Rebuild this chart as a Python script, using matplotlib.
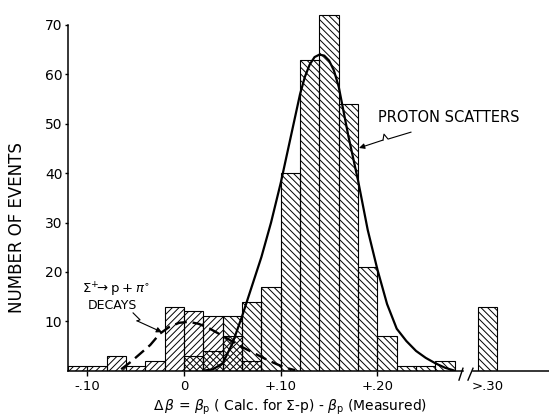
import numpy as np
import matplotlib
matplotlib.use("Agg")
from matplotlib import pyplot as plt

plt.rcParams['font.family'] = 'DejaVu Sans'
plt.rcParams['mathtext.fontset'] = 'dejavusans'
plt.rcParams['hatch.linewidth'] = 0.7
plt.rcParams['hatch.color'] = 'black'

# histogram bins (left edges, width .02)
bin_left = [-0.12, -0.10, -0.08, -0.06, -0.04, -0.02, 0.00, 0.02, 0.04, 0.06,
            0.08, 0.10, 0.12, 0.14, 0.16, 0.18, 0.20, 0.22, 0.24, 0.26]
bin_width = 0.02
decays = [1, 1, 3, 1, 2, 13, 12, 11, 7, 2, 0, 0, 0, 0, 0, 0, 0, 0, 0, 0]
protons = [0, 0, 0, 0, 0, 0, 3, 4, 11, 14, 17, 40, 63, 72, 54, 21, 7, 1, 1, 2]

# the ">.30" overflow bin
overflow_left = 0.304
overflow_count = 13

# fitted curves
proton_x = [0.02, 0.03, 0.04, 0.05, 0.06, 0.07, 0.08, 0.09, 0.10, 0.11,
            0.12, 0.125, 0.13, 0.135, 0.14, 0.145, 0.15, 0.155, 0.16, 0.17,
            0.18, 0.19, 0.20, 0.21, 0.22, 0.23, 0.24, 0.25, 0.26, 0.27, 0.28]
proton_y = [0, 0.3, 1.5, 5.5, 11, 17, 23, 30, 38, 47,
            56, 59.5, 62, 63.5, 64, 63.8, 62.8, 60.8, 57.5, 47.5,
            38.5, 28.5, 20.5, 13.5, 8.5, 6, 4, 2.6, 1.5, 0.6, 0]

decay_x = [-0.065, -0.055, -0.045, -0.035, -0.025, -0.015, -0.005, 0.005, 0.015,
           0.025, 0.035, 0.045, 0.055, 0.065, 0.075, 0.085, 0.095, 0.105, 0.115]
decay_y = [0.3, 1.8, 3.5, 5.2, 7.5, 8.9, 9.7, 9.9, 9.5,
           8.7, 7.6, 6.5, 5.3, 4.3, 3.3, 2.3, 1.4, 0.6, 0.1]

xtick_pos = [-0.10, 0.0, 0.10, 0.20, 0.314]
xtick_lab = ['-.10', '0', '+.10', '+.20', '>.30']
ytick_pos = [10, 20, 30, 40, 50, 60, 70]

fig = plt.figure(figsize=(5.49, 4.17), dpi=100)
ax = fig.add_axes([0.1239, 0.111, 0.8761, 0.889])

# proton scatters (\\) and decays (//); overlap gives the cross hatch
pl = [b for b, c in zip(bin_left, protons) if c > 0]
pc = [c for c in protons if c > 0]
dl = [b for b, c in zip(bin_left, decays) if c > 0]
dc = [c for c in decays if c > 0]
ax.bar(pl, pc, width=bin_width, align='edge', facecolor='none',
       edgecolor='black', linewidth=0.8, hatch='\\' * 5)
ax.bar(dl, dc, width=bin_width, align='edge', facecolor='none',
       edgecolor='black', linewidth=0.8, hatch='/' * 5)
ax.bar([overflow_left], [overflow_count], width=bin_width, align='edge',
       facecolor='none', edgecolor='black', linewidth=0.8, hatch='\\' * 5)

ax.plot(proton_x, proton_y, color='black', lw=1.6, zorder=4)
line, = ax.plot(decay_x, decay_y, color='black', lw=1.7, zorder=4)
line.set_dashes((5, 2.5))

ax.set_xlim(-0.12, 0.3775)
ax.set_ylim(0, 75.06)

for s in ['top', 'right']:
    ax.spines[s].set_visible(False)
ax.spines['left'].set_bounds(0, 70)
ax.spines['bottom'].set_bounds(-0.12, 0.2885)
ax.spines['left'].set_linewidth(1.1)
ax.spines['bottom'].set_linewidth(1.1)

# broken axis: rest of the line and the two slashes
ax.plot([0.2989, 0.3775], [0, 0], color='black', lw=1.1, clip_on=False)
ax.plot([0.2844, 0.2885], [-1.9, 0.5], color='black', lw=1.0, clip_on=False)
ax.plot([0.2937, 0.2989], [-1.9, 0.5], color='black', lw=1.0, clip_on=False)

ax.set_xticks(xtick_pos)
ax.set_xticklabels(xtick_lab)
ax.xaxis.get_major_ticks()[-1].tick1line.set_visible(False)
ax.set_yticks(ytick_pos)
ax.tick_params(axis='x', direction='out', length=3.5, width=1, pad=3, labelsize=9.5)
ax.tick_params(axis='y', direction='out', length=2.5, width=1, pad=1.5, labelsize=10)

ax.set_ylabel('NUMBER OF EVENTS', fontsize=12)
ax.yaxis.set_label_coords(-0.088, 0.386)
ax.set_xlabel(r'$\Delta\,\beta$ = $\beta_{\rm p}$ ( Calc. for $\Sigma$-p) - $\beta_{\rm p}$ (Measured)',
              fontsize=10)
ax.xaxis.set_label_coords(0.4615, -0.072)

# labels and arrows
ax.text(0.2006, 51.3, 'PROTON SCATTERS', fontsize=10.5, ha='left', va='center')
px = [0.2347, 0.211, 0.2068, 0.2058]
py = [48.3, 46.9, 47.9, 46.7]
ax.plot(px, py, color='black', lw=0.8)
ax.annotate('', xy=(0.181, 45.1), xytext=(px[-1], py[-1]),
            arrowprops=dict(arrowstyle='-|>', color='black', lw=0.8,
                            mutation_scale=8, shrinkA=0, shrinkB=0))

ax.text(-0.0703, 16.3, r'$\Sigma^{+}\!\!\rightarrow \mathrm{p}+\pi^{\circ}$',
        fontsize=9.5, ha='center', va='center')
ax.text(-0.0739, 13.3, 'DECAYS', fontsize=9, ha='center', va='center')
dx = [-0.0527, -0.0455, -0.0486]
dy = [11.7, 10.3, 10.1]
ax.plot(dx, dy, color='black', lw=0.8)
ax.annotate('', xy=(-0.0228, 7.8), xytext=(dx[-1], dy[-1]),
            arrowprops=dict(arrowstyle='-|>', color='black', lw=0.8,
                            mutation_scale=8, shrinkA=0, shrinkB=0))

fig.savefig('out.png', dpi=100)
